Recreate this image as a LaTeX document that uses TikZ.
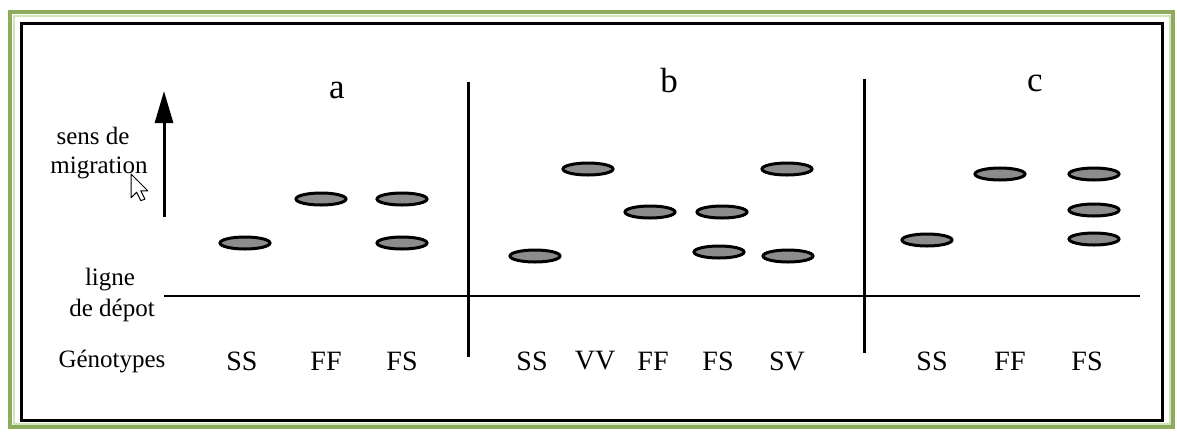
\documentclass[tikz,border=0pt]{standalone}
\usepackage{fontspec}
\setmainfont{Liberation Serif}
\usetikzlibrary{arrows.meta,shapes.geometric}
\definecolor{frameGreen}{RGB}{140,172,92}
\definecolor{frameGreenLight}{RGB}{210,228,188}
\definecolor{bandGray}{RGB}{140,140,140}
\begin{document}
\begin{tikzpicture}[x=1pt,y=-1pt,
  band/.style={ellipse, draw=black, line width=3pt, fill=bandGray,
    minimum width=50pt, minimum height=12pt, inner sep=0pt},
  geno/.style={font=\fontsize{28}{30}\selectfont, inner sep=0pt},
  panel/.style={font=\fontsize{35}{38}\selectfont, inner sep=0pt},
  side/.style={font=\fontsize{25}{27}\selectfont, inner sep=0pt},
  rule/.style={line width=3pt, black}]
\useasboundingbox (0,0) rectangle (1177,432);
\fill[white] (0,0) rectangle (1177,432);

% outer frames
\draw[frameGreen, line width=3.5pt] (10,12) rectangle (1173,427);
\draw[frameGreenLight, line width=2pt] (13.5,15.5) rectangle (1169.5,423.5);
\draw[line width=3pt] (21,23) rectangle (1162,420);

% migration axis
\coordinate (axisFoot) at (164,217);
\coordinate (axisTop) at (164,91);
\draw[line width=3pt, -{Triangle[length=32pt,width=18pt]}] (axisFoot) -- (axisTop);

% deposit line and panel separators
\coordinate (depL) at (164,296);
\coordinate (depR) at (1140,296);
\draw[line width=2.5pt] (depL) -- (depR);
\coordinate (sep1t) at (468,82);
\coordinate (sep1b) at (468,357);
\coordinate (sep2t) at (864,79);
\coordinate (sep2b) at (864,353);
\draw[rule] (sep1t) -- (sep1b);
\draw[rule] (sep2t) -- (sep2b);

% side labels
\node[side] (sens) at (93,136) {sens de};
\node[side] (migr) at (99,168) {migration};
\node[side] (ligne) at (110,280) {ligne};
\node[side] (depot) at (112,310) {de dépot};
\node[side] (geno) at (112,361) {Génotypes};

% mouse pointer
\draw[black, fill=white, line width=1pt, line join=round, shift={(131,174)}, scale=1.4]
  (0,0) -- (0,17) -- (4,13) -- (7,19) -- (10,18) -- (7,12) -- (12,12) -- cycle;

% panel letters
\node[panel] (pa) at (337,90) {a};
\node[panel] (pb) at (669,81) {b};
\node[panel] (pc) at (1035,83) {c};

% genotype labels
\node[geno] (gaSS) at (242,361) {SS};
\node[geno] (gaFF) at (326,361) {FF};
\node[geno] (gaFS) at (402,361) {FS};
\node[geno] (gbSS) at (532,361) {SS};
\node[geno] (gbVV) at (595,361) {VV};
\node[geno] (gbFF) at (653,361) {FF};
\node[geno] (gbFS) at (718,361) {FS};
\node[geno] (gbSV) at (787,361) {SV};
\node[geno] (gcSS) at (932,361) {SS};
\node[geno] (gcFF) at (1010,361) {FF};
\node[geno] (gcFS) at (1087,361) {FS};

% bands, panel a
\node[band] (aSS) at (245,243) {};
\node[band] (aFF) at (321,199) {};
\node[band] (aFS1) at (402,199) {};
\node[band] (aFS2) at (402,243) {};
% bands, panel b
\node[band] (bSS) at (535,256) {};
\node[band] (bVV) at (588,169) {};
\node[band] (bFF) at (650,212) {};
\node[band] (bFS1) at (722,212) {};
\node[band] (bFS2) at (719,252) {};
\node[band] (bSV1) at (787,169) {};
\node[band] (bSV2) at (788,256) {};
% bands, panel c
\node[band] (cSS) at (927,240) {};
\node[band] (cFF) at (1000,174) {};
\node[band] (cFS1) at (1094,174) {};
\node[band] (cFS2) at (1094,210) {};
\node[band] (cFS3) at (1094,239) {};
\end{tikzpicture}
\end{document}
